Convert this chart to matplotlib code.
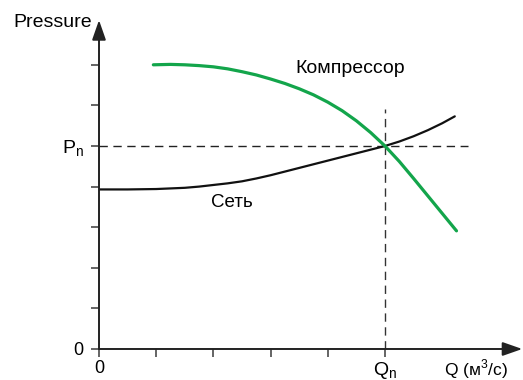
import matplotlib.pyplot as plt

plt.rcParams['font.family'] = ['Liberation Sans', 'DejaVu Sans']

# Компрессор (green) curve
q_comp = [0.95, 1.25, 1.5, 1.75, 2.0, 2.25, 2.5, 2.75, 3.0, 3.25, 3.5, 3.75,
          4.0, 4.25, 4.5, 4.75, 5.0, 5.25, 5.5, 5.75, 6.0, 6.25]
p_comp = [7.0, 7.01, 7.0, 6.98, 6.95, 6.9, 6.83, 6.75, 6.65, 6.54, 6.41, 6.26,
          6.08, 5.87, 5.62, 5.33, 5.0, 4.62, 4.2, 3.77, 3.34, 2.91]

# Сеть (black) curve
q_net = [0, 0.5, 1.0, 1.25, 1.5, 1.75, 2.0, 2.25, 2.5, 2.75, 3.0, 3.25, 3.5,
         3.75, 4.0, 4.25, 4.5, 4.75, 5.0, 5.25, 5.5, 5.75, 6.0, 6.22]
p_net = [3.93, 3.93, 3.94, 3.955, 3.97, 4.0, 4.04, 4.08, 4.13, 4.2, 4.28, 4.37, 4.46,
         4.55, 4.64, 4.73, 4.82, 4.91, 5.0, 5.11, 5.24, 5.39, 5.56, 5.73]

q_n, p_n = 5, 5
x_ticks = [0, 1, 2, 3, 4, 5]
x_labels = ['0', '', '', '', '', 'Q$_\\mathregular{n}$']
y_ticks = [0, 1, 2, 3, 4, 5, 6, 7]
y_labels = ['0', '', '', '', '', 'P$_\\mathregular{n}$', '', '']

fig = plt.figure(figsize=(5.23, 3.8), dpi=100)
ax = fig.add_axes([0.1893, 0.0816, 0.8093, 0.8654])
ax.set_xlim(0, 7.4)
ax.set_ylim(0, 8.1)
for s in ax.spines.values():
    s.set_visible(False)

axis_col = '#4a4a4a'
# оси со стрелками
for tip in [(7.4, 0), (0, 8.1)]:
    ax.annotate('', xy=tip, xytext=(0, 0),
                arrowprops=dict(arrowstyle='-|>,head_length=1.2,head_width=0.42',
                                color='#222222', lw=1.4, shrinkA=0, shrinkB=0),
                annotation_clip=False)

ax.set_xticks(x_ticks)
ax.set_xticklabels(x_labels)
ax.set_yticks(y_ticks)
ax.set_yticklabels(y_labels)
ax.tick_params(length=6, width=1.2, color=axis_col)
ax.tick_params(axis='x', pad=2)
ax.tick_params(axis='y', pad=5)
for lab in ax.get_xticklabels() + ax.get_yticklabels():
    lab.set_fontsize(13)
ax.get_xticklabels()[5].set_fontsize(14)
ax.get_yticklabels()[5].set_fontsize(14)

# пунктир
ax.plot([0, 6.45], [p_n, p_n], color='#222222', lw=1, dashes=(6, 4))
ax.plot([q_n, q_n], [0, 5.9], color='#333333', lw=1, dashes=(6, 4))

ax.plot(q_net, p_net, color='#111111', lw=1.6, solid_capstyle='round')
ax.plot(q_comp, p_comp, color='#13a54b', lw=2.3, solid_capstyle='round')

ax.text(3.44, 6.92, 'Компрессор', fontsize=14, va='center', ha='left')
ax.text(2.33, 3.6, 'Сеть', fontsize=13.5, va='center', ha='center')
ax.text(-0.12, 8.05, 'Pressure', fontsize=14, va='center', ha='right')
ax.text(6.04, -0.5, 'Q (м$^\\mathregular{3}$/с)', fontsize=12.5, va='center', ha='left')

fig.savefig('out.png', dpi=100)
